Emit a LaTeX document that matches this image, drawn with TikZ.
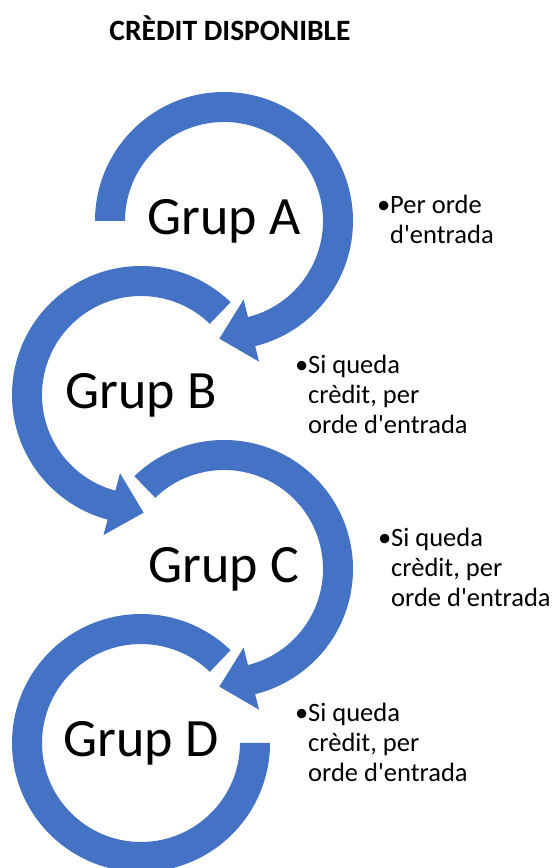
\documentclass[tikz,border=0pt]{standalone}
\usepackage{fontspec}
\setmainfont{Carlito}
\usetikzlibrary{calc}
\definecolor{ringblue}{HTML}{4472C4}
\tikzset{
  ring/.style={fill=ringblue, draw=none},
  grup/.style={font=\fontsize{54}{60}\selectfont, inner sep=0pt},
  nota/.style={font=\fontsize{26.5}{30}\selectfont, align=left, anchor=base west, inner sep=0pt},
}
\begin{document}
\begin{tikzpicture}[x=1pt, y=1pt, line join=round]
  \useasboundingbox (0,0) rectangle (555,868);
  \coordinate (cA) at (224,647);
  \coordinate (cB) at (141,473);
  \coordinate (cC) at (224,299);
  \coordinate (cD) at (141,125);

  % rings with arrow heads
  \fill[ring] ($(cA)+(180:129pt)$) arc[start angle=180, end angle=-76, radius=129pt]
    -- ($(cA)+(-76:145pt)$) -- ($(cA)+(-76:113pt)+(-166:33pt)$)
    -- ($(cA)+(-76:81pt)$) -- ($(cA)+(-76:99pt)$)
    arc[start angle=-76, end angle=180, radius=99pt] -- cycle;
  \fill[ring] ($(cB)+(46:129pt)$) arc[start angle=46, end angle=255, radius=129pt]
    -- ($(cB)+(255:145pt)$) -- ($(cB)+(255:113pt)+(345:33pt)$)
    -- ($(cB)+(255:81pt)$) -- ($(cB)+(255:99pt)$)
    arc[start angle=255, end angle=46, radius=99pt] -- cycle;
  \fill[ring] ($(cC)+(134:129pt)$) arc[start angle=134, end angle=-76, radius=129pt]
    -- ($(cC)+(-76:145pt)$) -- ($(cC)+(-76:113pt)+(-166:33pt)$)
    -- ($(cC)+(-76:81pt)$) -- ($(cC)+(-76:99pt)$)
    arc[start angle=-76, end angle=134, radius=99pt] -- cycle;
  \fill[ring] ($(cD)+(46:129pt)$) arc[start angle=46, end angle=360, radius=129pt]
    -- ($(cD)+(0:99pt)$)
    arc[start angle=360, end angle=46, radius=99pt] -- cycle;

  % labels
  \node[font=\bfseries\fontsize{29.5}{34}\selectfont] (titol) at (230,840) {CRÈDIT DISPONIBLE};
  \node[grup] (gA) at (cA) {Grup A};
  \node[grup] (gB) at (cB) {Grup B};
  \node[grup] (gC) at (cC) {Grup C};
  \node[grup] (gD) at (cD) {Grup D};
  \node[nota] (nA) at (390,624) {\llap{•}Per orde\\d\textquotesingle entrada};
  \node[nota] (nB) at (308,434) {\llap{•}Si queda\\crèdit, per\\orde d\textquotesingle entrada};
  \node[nota] (nC) at (391,261) {\llap{•}Si queda\\crèdit, per\\orde d\textquotesingle entrada};
  \node[nota] (nD) at (308,86) {\llap{•}Si queda\\crèdit, per\\orde d\textquotesingle entrada};
\end{tikzpicture}
\end{document}
